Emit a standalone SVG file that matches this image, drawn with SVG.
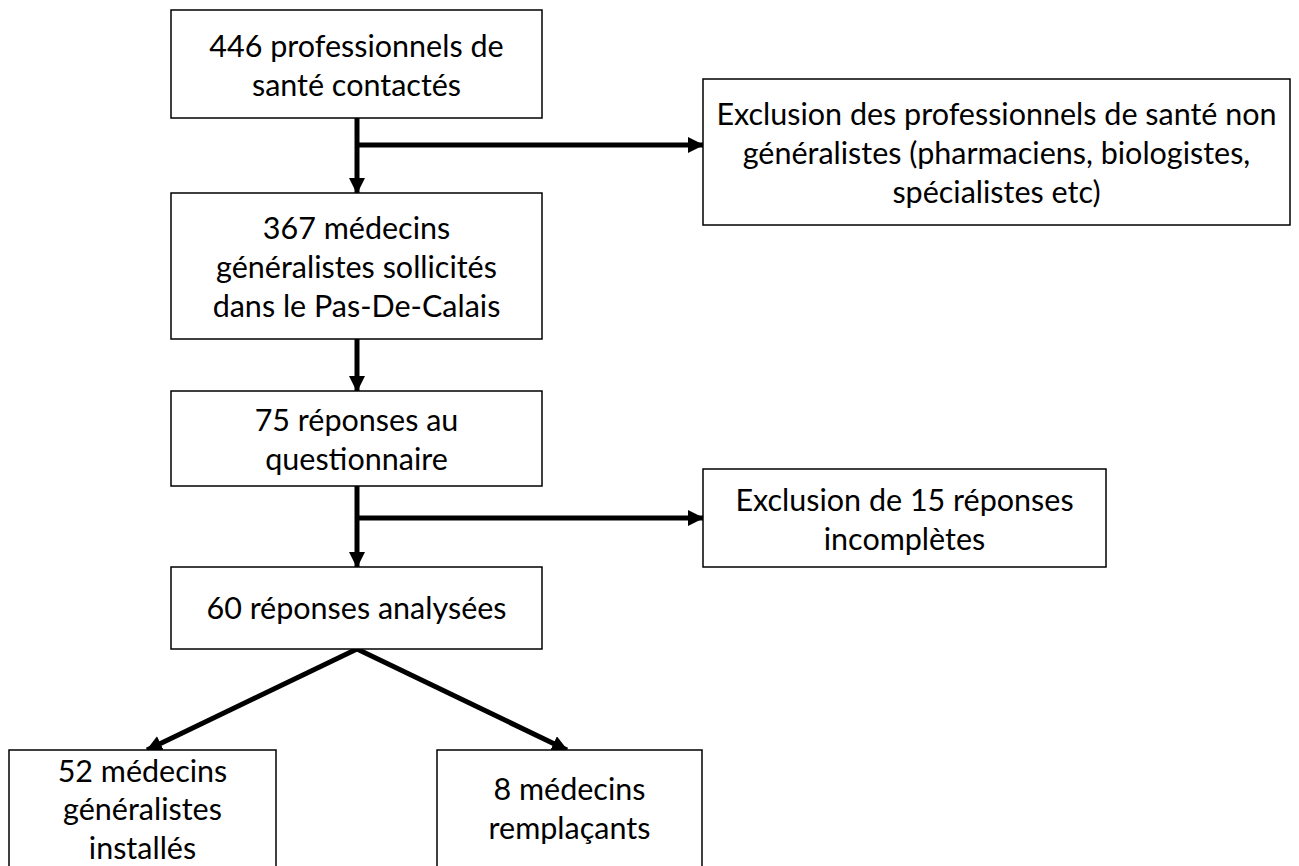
<svg xmlns="http://www.w3.org/2000/svg" width="1299" height="866" viewBox="0 0 1299 866">
  <style>
    .box { fill: #ffffff; stroke: #000000; stroke-width: 1.5; }
    .lbl { font-family: Lato, "Open Sans", "Liberation Sans", sans-serif; font-size: 30.5px; fill: #000000; text-anchor: middle; }
    .conn { fill: none; stroke: #000000; stroke-width: 5; }
  </style>
  <defs>
    <marker id="arrow" markerUnits="userSpaceOnUse" markerWidth="16" markerHeight="17" refX="15" refY="8" orient="auto">
      <path d="M0,0 L16,8 L0,16 z" fill="#000000"/>
    </marker>
  </defs>
  <rect width="1299" height="866" fill="#ffffff"/>

  <g id="connectors">
    <path class="conn" d="M357,118 L357,193" marker-end="url(#arrow)"/>
    <path class="conn" d="M357,145 L703,145" marker-end="url(#arrow)"/>
    <path class="conn" d="M357,339 L357,391" marker-end="url(#arrow)"/>
    <path class="conn" d="M357,486 L357,567" marker-end="url(#arrow)"/>
    <path class="conn" d="M357,518 L703,518" marker-end="url(#arrow)"/>
    <path class="conn" d="M357,649 L147,750" marker-end="url(#arrow)"/>
    <path class="conn" d="M357,649 L567,750" marker-end="url(#arrow)"/>
  </g>

  <g id="n1">
    <rect class="box" x="171" y="10" width="371" height="108"/>
    <text class="lbl" x="356.5" y="57">446 professionnels de</text>
    <text class="lbl" x="356.5" y="96">santé contactés</text>
  </g>
  <g id="n2">
    <rect class="box" x="703" y="79" width="587" height="146"/>
    <text class="lbl" x="996.5" y="125">Exclusion des professionnels de santé non</text>
    <text class="lbl" x="996.5" y="164">généralistes (pharmaciens, biologistes,</text>
    <text class="lbl" x="996.5" y="203">spécialistes etc)</text>
  </g>
  <g id="n3">
    <rect class="box" x="171" y="193" width="371" height="146"/>
    <text class="lbl" x="356.5" y="239">367 médecins</text>
    <text class="lbl" x="356.5" y="278">généralistes sollicités</text>
    <text class="lbl" x="356.5" y="317">dans le Pas-De-Calais</text>
  </g>
  <g id="n4">
    <rect class="box" x="171" y="391" width="371" height="95"/>
    <text class="lbl" x="356.5" y="431">75 réponses au</text>
    <text class="lbl" x="356.5" y="470">questionnaire</text>
  </g>
  <g id="n5">
    <rect class="box" x="703" y="469" width="403" height="98"/>
    <text class="lbl" x="904.5" y="511">Exclusion de 15 réponses</text>
    <text class="lbl" x="904.5" y="550">incomplètes</text>
  </g>
  <g id="n6">
    <rect class="box" x="171" y="567" width="371" height="82"/>
    <text class="lbl" x="356.5" y="619">60 réponses analysées</text>
  </g>
  <g id="n7">
    <rect class="box" x="9" y="750" width="267" height="125"/>
    <text class="lbl" x="142.5" y="782">52 médecins</text>
    <text class="lbl" x="142.5" y="820">généralistes</text>
    <text class="lbl" x="142.5" y="859">installés</text>
  </g>
  <g id="n8">
    <rect class="box" x="437" y="750" width="265" height="125"/>
    <text class="lbl" x="569.5" y="800">8 médecins</text>
    <text class="lbl" x="569.5" y="839">remplaçants</text>
  </g>
</svg>
